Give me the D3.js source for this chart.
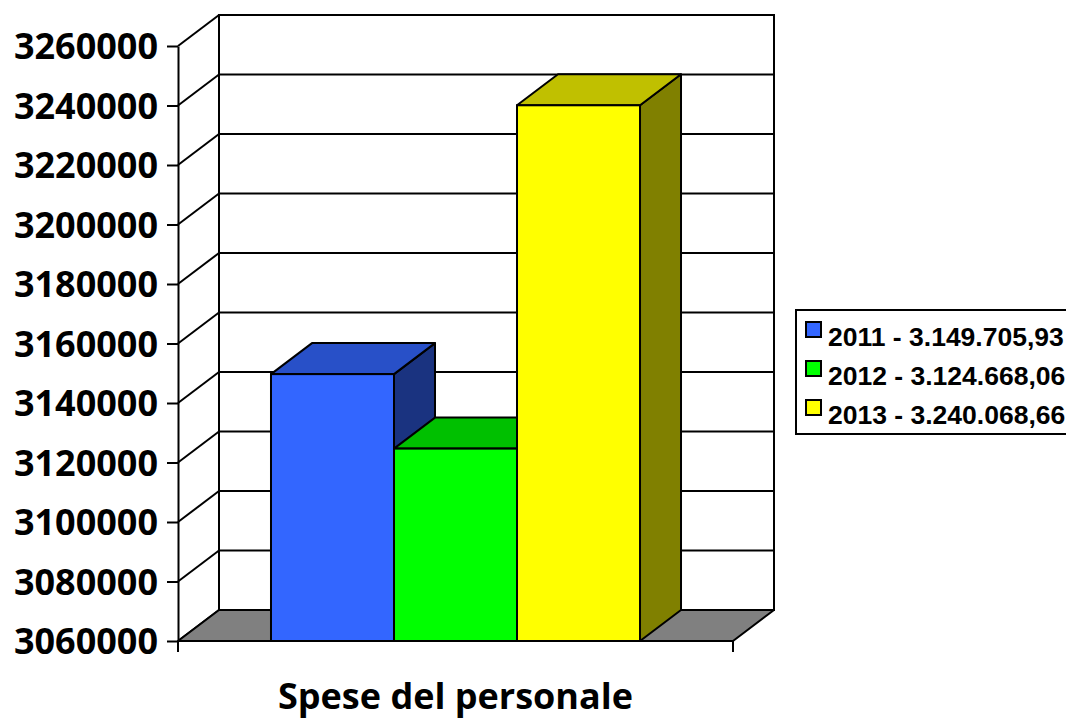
<!DOCTYPE html>
<html>
<head>
<meta charset="utf-8">
<script src="https://cdn.jsdelivr.net/npm/d3@7"></script>
<style>
  body { margin: 0; background: #fff; }
  .tick-label { font-family: "Open Sans", sans-serif; font-weight: bold; font-size: 36px; }
  .legend-text { font-family: "Liberation Sans", Arial, sans-serif; font-weight: bold; font-size: 26.5px; }
  .title-text { font-family: "Open Sans", sans-serif; font-weight: bold; font-size: 36px; }
</style>
</head>
<body>
<div id="chart-div"></div>
<script>
const category = "Spese del personale";
const years = ["2011", "2012", "2013"];
const values = [3149705.93, 3124668.06, 3240068.66];
const legendLabels = ["2011 - 3.149.705,93", "2012 - 3.124.668,06", "2013 - 3.240.068,66"];
const yTicks = [3060000, 3080000, 3100000, 3120000, 3140000, 3160000, 3180000, 3200000, 3220000, 3240000, 3260000];

const colors = {
    front: ["#3366ff", "#00ff00", "#ffff00"],
    top:   ["#2850c8", "#00c000", "#c0c000"],
    side:  ["#1a3380", "#008000", "#808000"]
};

const svgDims = { width: 1066, height: 719 };
const svg = d3.select("#chart-div")
    .append("svg")
    .attr("width", svgDims.width)
    .attr("height", svgDims.height);

// front plot box
const plot = { left: 178, right: 733, top: 46, bottom: 641 };
const depth = { dx: 41, dy: -31 };

const yScale = d3.scaleLinear()
    .domain([3060000, 3260000])
    .range([plot.bottom, plot.top]);

const xScale = d3.scaleBand()
    .domain(years)
    .range([plot.left, plot.right])
    .paddingInner(0)
    .paddingOuter(0.756);

const g = svg.append("g");
const stroke = "#000";
const sw = 2;

// back wall
g.append("rect")
    .attr("x", plot.left + depth.dx)
    .attr("y", plot.top + depth.dy)
    .attr("width", plot.right - plot.left)
    .attr("height", plot.bottom - plot.top)
    .attr("fill", "#fff")
    .attr("stroke", stroke)
    .attr("stroke-width", sw);

// grid lines on back wall and left wall
yTicks.forEach(t => {
    const y = yScale(t);
    g.append("line")
        .attr("x1", plot.left + depth.dx).attr("x2", plot.right + depth.dx)
        .attr("y1", y + depth.dy).attr("y2", y + depth.dy)
        .attr("stroke", stroke).attr("stroke-width", sw);
    g.append("line")
        .attr("x1", plot.left).attr("x2", plot.left + depth.dx)
        .attr("y1", y).attr("y2", y + depth.dy)
        .attr("stroke", stroke).attr("stroke-width", sw);
});

// floor
const y0 = yScale(3060000);
g.append("path")
    .attr("d", `M${plot.left},${y0} L${plot.right},${y0} L${plot.right + depth.dx},${y0 + depth.dy} L${plot.left + depth.dx},${y0 + depth.dy} Z`)
    .attr("fill", "#808080")
    .attr("stroke", stroke)
    .attr("stroke-width", sw)
    .attr("stroke-linejoin", "round");

// y axis
const yAxis = g.append("g")
    .attr("transform", `translate(${plot.left},0)`)
    .call(d3.axisLeft(yScale).tickValues(yTicks).tickFormat(d3.format("d")).tickSize(11).tickSizeOuter(0).tickPadding(9));
yAxis.selectAll("path, line").attr("stroke", stroke).attr("stroke-width", sw);
yAxis.selectAll("text").attr("class", "tick-label").attr("fill", "#000").attr("dy", "0.36em");

// category axis ticks (below baseline)
[plot.left, plot.right].forEach(x => {
    g.append("line")
        .attr("x1", x).attr("x2", x)
        .attr("y1", y0).attr("y2", y0 + 11)
        .attr("stroke", stroke).attr("stroke-width", sw);
});

// bars
const bw = xScale.bandwidth();
years.forEach((yr, i) => {
    const x = xScale(yr);
    const yt = yScale(values[i]);
    const bar = g.append("g");
    bar.append("path")
        .attr("d", `M${x + bw},${yt} L${x + bw + depth.dx},${yt + depth.dy} L${x + bw + depth.dx},${y0 + depth.dy} L${x + bw},${y0} Z`)
        .attr("fill", colors.side[i]).attr("stroke", stroke).attr("stroke-width", sw).attr("stroke-linejoin", "round");
    bar.append("path")
        .attr("d", `M${x},${yt} L${x + depth.dx},${yt + depth.dy} L${x + bw + depth.dx},${yt + depth.dy} L${x + bw},${yt} Z`)
        .attr("fill", colors.top[i]).attr("stroke", stroke).attr("stroke-width", sw).attr("stroke-linejoin", "round");
    bar.append("rect")
        .attr("x", x).attr("y", yt)
        .attr("width", bw).attr("height", y0 - yt)
        .attr("fill", colors.front[i]).attr("stroke", stroke).attr("stroke-width", sw);
});

// front baseline
g.append("line")
    .attr("x1", plot.left).attr("x2", plot.right)
    .attr("y1", y0).attr("y2", y0)
    .attr("stroke", stroke).attr("stroke-width", sw);

// title
svg.append("text")
    .attr("class", "title-text")
    .attr("x", (plot.left + plot.right) / 2)
    .attr("y", 709)
    .attr("text-anchor", "middle")
    .text(category);

// legend
const legend = svg.append("g").attr("transform", "translate(796,310)");
legend.append("rect")
    .attr("x", 0).attr("y", 0)
    .attr("width", 300).attr("height", 124)
    .attr("fill", "#fff").attr("stroke", stroke).attr("stroke-width", sw);
legendLabels.forEach((lab, i) => {
    const ly = 12 + i * 39;
    legend.append("rect")
        .attr("x", 10).attr("y", ly)
        .attr("width", 15).attr("height", 15)
        .attr("fill", colors.front[i]).attr("stroke", stroke).attr("stroke-width", 2);
    legend.append("text")
        .attr("class", "legend-text")
        .attr("x", 32).attr("y", ly + 24)
        .text(lab);
});
</script>
</body>
</html>
